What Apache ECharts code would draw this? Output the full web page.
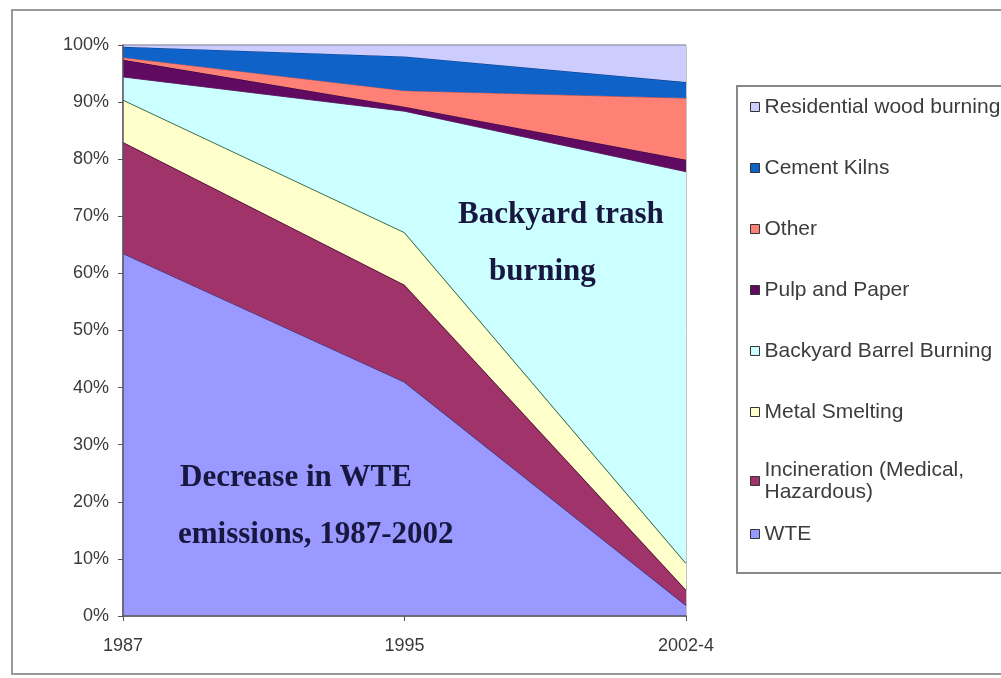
<!DOCTYPE html>
<html>
<head>
<meta charset="utf-8">
<script src="https://cdn.jsdelivr.net/npm/echarts@6/dist/echarts.min.js"></script>
<style>
html,body{margin:0;padding:0;background:#fff;}
#chart{width:1001px;height:678px;}
</style>
</head>
<body>
<div id="chart"></div>
<script>
// Categories (x axis)
const categories = ['1987', '1995', '2002-4'];

// Series values: share of emissions (%) per source, bottom to top
const wte            = [63.5, 41.0, 1.9];
const incineration   = [19.5, 17.0, 2.7];
const metalSmelting  = [7.4, 9.2, 4.7];
const backyardBarrel = [4.0, 21.2, 68.5];
const pulpPaper      = [3.0, 0.8, 2.1];
const other          = [0.4, 2.8, 10.8];
const cementKilns    = [1.9, 6.0, 2.8];
const residentialWood= [0.3, 2.0, 6.5];

// Series names (stack order bottom -> top)
const seriesNames = [
  'WTE',
  'Incineration (Medical,\nHazardous)',
  'Metal Smelting',
  'Backyard Barrel Burning',
  'Pulp and Paper',
  'Other',
  'Cement Kilns',
  'Residential wood burning'
];
const seriesValues = [wte, incineration, metalSmelting, backyardBarrel, pulpPaper, other, cementKilns, residentialWood];

// Styles (kept separate from data)
const fillColors = ['#9999FF', '#A0336A', '#FFFFCC', '#CCFFFF', '#600A62', '#FF8075', '#0F62C8', '#CCCCFF'];
const edgeColors = ['#35357F', '#4A1030', '#2F5E3E', '#3A0A3A', '#300030', '#A04040', '#0A3A80', '#8888AA'];
const edgeWidths = [1.5, 1.5, 1.6, 0.8, 1, 0.8, 1, 1];

// Y tick labels
const yTickFormat = '{value}%';

const chart = echarts.init(document.getElementById('chart'), null, {renderer: 'canvas'});

const series = seriesNames.map((name, i) => ({
  name: name,
  type: 'line',
  stack: 'total',
  data: seriesValues[i],
  symbol: 'none',
  smooth: false,
  color: fillColors[i],
  itemStyle: {color: fillColors[i]},
  lineStyle: {color: edgeColors[i], width: edgeWidths[i]},
  areaStyle: {color: fillColors[i], opacity: 1},
  emphasis: {disabled: true},
  silent: true,
  z: 2 + i
}));

const legendNames = seriesNames.slice().reverse();
const legendText = {
  color: '#3c3c3c', fontSize: 21, lineHeight: 22,
  fontFamily: '"Liberation Sans", Arial, sans-serif'
};
const legendCommon = {
  orient: 'vertical',
  left: 745,
  icon: 'rect',
  itemWidth: 9,
  itemHeight: 9,
  itemGap: 39,
  selectedMode: false,
  itemStyle: {borderColor: '#333', borderWidth: 1},
  textStyle: legendText
};

const option = {
  animation: false,
  backgroundColor: '#ffffff',
  textStyle: {fontFamily: '"Liberation Sans", Arial, sans-serif'},
  grid: {
    left: 123, right: 315, top: 45, bottom: 62,
    show: true, borderColor: '#888', borderWidth: 1, backgroundColor: 'transparent'
  },
  xAxis: {
    type: 'category',
    data: categories,
    boundaryGap: false,
    axisLine: {show: true, lineStyle: {color: '#555', width: 1.5}},
    axisTick: {show: true, length: 5, lineStyle: {color: '#555'}},
    axisLabel: {color: '#3a3a3a', fontSize: 18, margin: 21, fontFamily: '"Liberation Sans", Arial, sans-serif'},
    splitLine: {show: false},
    z: 20
  },
  yAxis: {
    type: 'value',
    min: 0, max: 100, interval: 10,
    axisLine: {show: true, lineStyle: {color: '#556', width: 1.5}},
    axisTick: {show: true, length: 5, lineStyle: {color: '#555'}},
    axisLabel: {formatter: yTickFormat, color: '#3a3a3a', fontSize: 18, margin: 14, fontFamily: '"Liberation Sans", Arial, sans-serif'},
    splitLine: {show: false},
    z: 20
  },
  legend: [
    Object.assign({}, legendCommon, {top: 91, data: legendNames.slice(0, 6)}),
    Object.assign({}, legendCommon, {
      top: 443, data: legendNames.slice(6, 7),
      textStyle: Object.assign({}, legendText, {padding: [22, 0, 0, 0]})
    }),
    Object.assign({}, legendCommon, {top: 518, data: legendNames.slice(7)})
  ],
  graphic: [
    {
      type: 'rect', z: -10, silent: true,
      shape: {x: 12, y: 10, width: 1010, height: 664},
      style: {fill: 'none', stroke: '#999', lineWidth: 2}
    },
    {
      type: 'rect', z: -5, silent: true,
      shape: {x: 737, y: 86, width: 300, height: 487},
      style: {fill: '#fff', stroke: '#888', lineWidth: 2}
    },
    {
      type: 'text', z: 100, silent: true, left: 458, top: 199,
      style: {text: 'Backyard trash', font: 'bold 31px "Liberation Serif", "Times New Roman", serif', fill: '#17173f'}
    },
    {
      type: 'text', z: 100, silent: true, left: 489, top: 256,
      style: {text: 'burning', font: 'bold 31px "Liberation Serif", "Times New Roman", serif', fill: '#17173f'}
    },
    {
      type: 'text', z: 100, silent: true, left: 180, top: 462,
      style: {text: 'Decrease in WTE', font: 'bold 31px "Liberation Serif", "Times New Roman", serif', fill: '#17173f'}
    },
    {
      type: 'text', z: 100, silent: true, left: 178, top: 519,
      style: {text: 'emissions, 1987-2002', font: 'bold 31px "Liberation Serif", "Times New Roman", serif', fill: '#17173f'}
    }
  ],
  series: series
};

chart.setOption(option);
</script>
</body>
</html>
